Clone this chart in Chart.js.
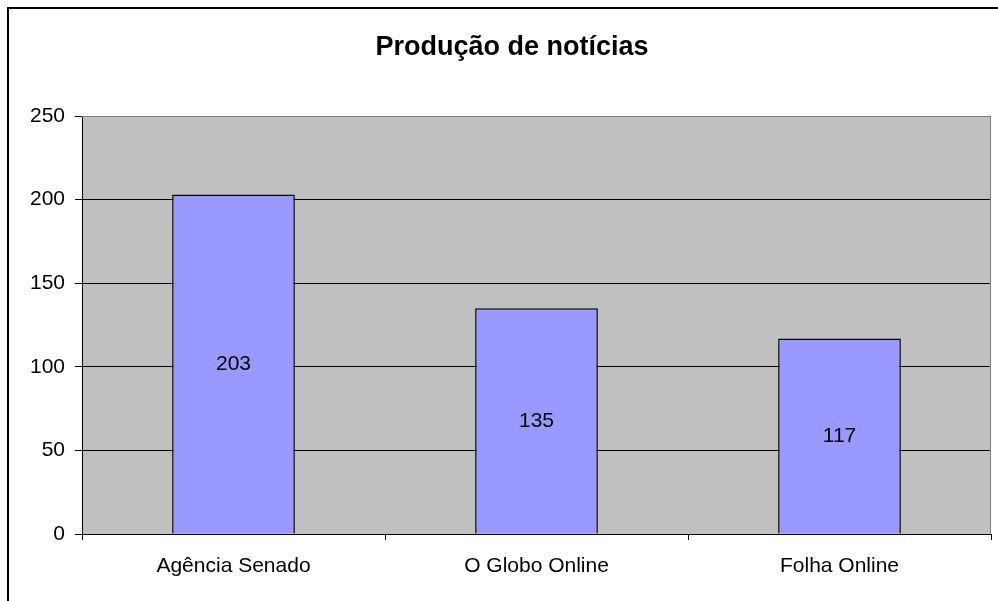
<!DOCTYPE html>
<html lang="pt">
<head>
    <meta charset="UTF-8">
    <title>Produção de notícias</title>
    <script src="https://cdn.jsdelivr.net/npm/chart.js"></script>
    <style>
        html, body { margin: 0; padding: 0; background: #fff; }
        #wrap { width: 998px; height: 601px; }
    </style>
</head>
<body>
    <div id="wrap"><canvas id="chart"></canvas></div>
    <script>
        const categories = ['Agência Senado', 'O Globo Online', 'Folha Online'];
        const noticias = [203, 135, 117];
        const yTicks = [0, 50, 100, 150, 200, 250];
        const chartTitle = 'Produção de notícias';

        const FONT = "'Liberation Sans', Arial, sans-serif";

        // frame, grey plot area and title, drawn the way Excel did it
        const excelLook = {
            id: 'excelLook',
            beforeDraw(chart) {
                const ctx = chart.ctx;
                const a = chart.chartArea;
                ctx.save();
                ctx.fillStyle = '#fff';
                ctx.fillRect(0, 0, chart.width, chart.height);
                // outer frame runs off the right and bottom edges
                ctx.strokeStyle = '#000';
                ctx.lineWidth = 2;
                ctx.strokeRect(8, 8, chart.width + 20, chart.height + 20);
                ctx.fillStyle = '#c0c0c0';
                ctx.fillRect(a.left, a.top, a.right - a.left, a.bottom - a.top);
                ctx.fillStyle = '#000';
                ctx.font = 'bold 27px ' + FONT;
                ctx.textAlign = 'center';
                ctx.textBaseline = 'middle';
                ctx.fillText(chartTitle, 512, 48);
                ctx.restore();
            },
            afterDatasetsDraw(chart) {
                const ctx = chart.ctx;
                const a = chart.chartArea;
                ctx.save();
                // plot area border, top and right
                ctx.strokeStyle = '#808080';
                ctx.lineWidth = 1;
                ctx.beginPath();
                ctx.moveTo(a.left, a.top + 0.5);
                ctx.lineTo(a.right - 0.5, a.top + 0.5);
                ctx.lineTo(a.right - 0.5, a.bottom);
                ctx.stroke();
                // value labels in the middle of each bar
                ctx.fillStyle = '#000';
                ctx.font = '21px ' + FONT;
                ctx.textAlign = 'center';
                ctx.textBaseline = 'middle';
                chart.getDatasetMeta(0).data.forEach((bar, i) => {
                    ctx.fillText(String(noticias[i]), bar.x, (bar.y + bar.base) / 2);
                });
                ctx.restore();
            }
        };

        new Chart(document.getElementById('chart'), {
            type: 'bar',
            data: {
                labels: categories,
                datasets: [{
                    data: noticias,
                    backgroundColor: '#9999ff',
                    borderColor: '#000',
                    borderWidth: 1.5,
                    categoryPercentage: 1,
                    barPercentage: 0.405
                }]
            },
            options: {
                responsive: true,
                maintainAspectRatio: false,
                animation: false,
                layout: { padding: { top: 116, right: 7, left: 0, bottom: 0 } },
                plugins: {
                    legend: { display: false },
                    title: { display: false },
                    tooltip: { enabled: false }
                },
                scales: {
                    x: {
                        grid: {
                            offset: true,
                            drawOnChartArea: false,
                            color: '#000',
                            tickLength: 6
                        },
                        border: { color: '#000', width: 1 },
                        ticks: {
                            color: '#000',
                            font: { family: FONT, size: 21 },
                            padding: 14
                        },
                        afterFit(scale) { scale.height = 67; }
                    },
                    y: {
                        min: 0,
                        max: 250,
                        afterBuildTicks(scale) {
                            scale.ticks = yTicks.map(v => ({ value: v }));
                        },
                        grid: {
                            color: ctx => (ctx.tick && ctx.tick.value === 250) ? '#808080' : '#000',
                            tickLength: 7,
                            tickColor: '#000'
                        },
                        border: { color: '#000', width: 1 },
                        ticks: {
                            color: '#000',
                            font: { family: FONT, size: 21 },
                            padding: 10
                        },
                        afterFit(scale) { scale.width = 82; }
                    }
                }
            },
            plugins: [excelLook]
        });
    </script>
</body>
</html>
